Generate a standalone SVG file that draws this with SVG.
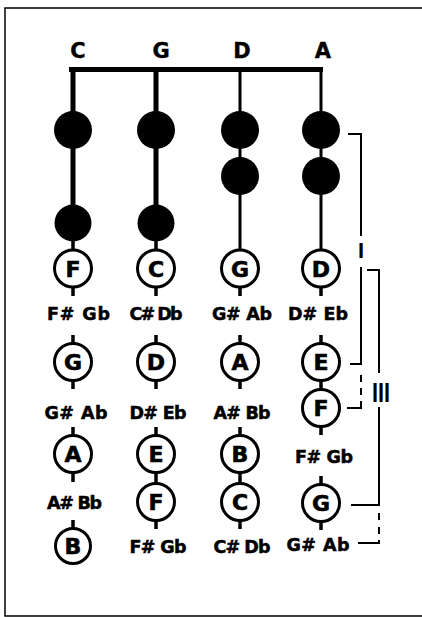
<svg xmlns="http://www.w3.org/2000/svg" width="422" height="617" viewBox="0 0 422 617">
<style>
.frame{fill:none;stroke:#000;stroke-width:1.5}
.ln{fill:none;stroke:#000}
.thick{stroke-width:5}
.thin{stroke-width:3}
.stub{stroke-width:3.5}
.br{stroke-width:2}
.dot{fill:#000}
.ring{fill:#fff;stroke:#000;stroke-width:3}
.hdr{font-family:"DejaVu Sans",sans-serif;font-weight:bold;font-size:21px;text-anchor:middle;fill:#000;stroke:#000;stroke-width:0.4}
.note{font-family:"DejaVu Sans",sans-serif;font-weight:bold;font-size:22px;text-anchor:middle;fill:#000;stroke:#000;stroke-width:0.6}
.acc{font-family:"DejaVu Sans",sans-serif;font-weight:bold;font-size:17.5px;text-anchor:middle;fill:#000;stroke:#000;stroke-width:0.5}
.rom{font-family:"Liberation Sans",Arial,sans-serif;font-weight:bold;text-anchor:middle;fill:#000}
</style>
<rect x="0" y="0" width="422" height="617" fill="#fff"/>
<path class="frame" d="M422 8 H5 V616 H422"/>

<g id="connectors">
  <rect x="69" y="67" width="254" height="5" fill="#000"/>
  <path class="ln thick" d="M73 70 V240 M156 70 V240"/>
  <path class="ln thin" d="M240 70 V250 M321 70 V250"/>
  <path class="ln stub" d="M73 240 V250 M156 240 V250"/>
  <path class="ln stub" d="M73 287 V296 M73 335 V343 M73 381 V389 M73 427 V435 M73 473 V482 M73 520 V528"/>
  <path class="ln stub" d="M156 287 V296 M156 335 V343 M156 381 V389 M156 427 V435 M156 473 V483 M156 521 V529"/>
  <path class="ln stub" d="M240 287 V296 M240 335 V343 M240 381 V389 M240 427 V435 M240 473 V483 M240 521 V529"/>
  <path class="ln stub" d="M321 287 V296 M321 335 V343 M321 381 V389 M321 427 V435 M321 476 V484 M321 522 V530"/>
  <path class="ln br" d="M348 134 H361 V236 M361 267 V364 H350"/>
  <path class="ln br" d="M361 375 V382 M361 388 V395 M361 401 V408 H347"/>
  <path class="ln br" d="M367 270 H379 V373 M379 407 V505 H351"/>
  <path class="ln br" d="M379 513 V520 M379 527 V534 M379 540 V543 H358"/>
</g>

<g id="header-C"><text class="hdr" x="78" y="58">C</text></g>
<g id="header-G"><text class="hdr" x="161" y="58">G</text></g>
<g id="header-D"><text class="hdr" x="242" y="58">D</text></g>
<g id="header-A"><text class="hdr" x="323" y="58">A</text></g>

<g id="dot-C1"><circle class="dot" cx="73" cy="130" r="19"/></g>
<g id="dot-G1"><circle class="dot" cx="156" cy="130" r="19"/></g>
<g id="dot-D1"><circle class="dot" cx="240" cy="130" r="19"/></g>
<g id="dot-A1"><circle class="dot" cx="321" cy="130" r="19"/></g>
<g id="dot-D2"><circle class="dot" cx="240" cy="176" r="19"/></g>
<g id="dot-A2"><circle class="dot" cx="321" cy="176" r="19"/></g>
<g id="dot-C2"><circle class="dot" cx="73" cy="223" r="18.5"/></g>
<g id="dot-G2"><circle class="dot" cx="156" cy="223" r="18.5"/></g>

<g id="c-F"><circle class="ring" cx="73" cy="268.5" r="18.5"/><text class="note" x="73" y="276.5">F</text></g>
<g id="c-G"><circle class="ring" cx="73" cy="362" r="18.5"/><text class="note" x="73" y="370">G</text></g>
<g id="c-A"><circle class="ring" cx="73" cy="454" r="18.5"/><text class="note" x="73" y="462">A</text></g>
<g id="c-B"><circle class="ring" cx="73" cy="546" r="17.5"/><text class="note" x="73" y="554">B</text></g>
<g id="c-l1"><text class="acc" x="78.5" y="319.5" textLength="63" lengthAdjust="spacing">F# Gb</text></g>
<g id="c-l2"><text class="acc" x="76" y="418.5" textLength="63" lengthAdjust="spacing">G# Ab</text></g>
<g id="c-l3"><text class="acc" x="74.5" y="508.5" textLength="55" lengthAdjust="spacing">A# Bb</text></g>

<g id="g-C"><circle class="ring" cx="156" cy="268.5" r="18.5"/><text class="note" x="156" y="276.5">C</text></g>
<g id="g-D"><circle class="ring" cx="156" cy="362" r="18.5"/><text class="note" x="156" y="370">D</text></g>
<g id="g-E"><circle class="ring" cx="156" cy="454" r="18.5"/><text class="note" x="156" y="462">E</text></g>
<g id="g-F"><circle class="ring" cx="156" cy="502" r="18.5"/><text class="note" x="156" y="510">F</text></g>
<g id="g-l1"><text class="acc" x="156" y="319.5" textLength="53" lengthAdjust="spacing">C# Db</text></g>
<g id="g-l2"><text class="acc" x="158" y="418.5" textLength="57" lengthAdjust="spacing">D# Eb</text></g>
<g id="g-l3"><text class="acc" x="158" y="552.5" textLength="57" lengthAdjust="spacing">F# Gb</text></g>

<g id="d-G"><circle class="ring" cx="240" cy="268.5" r="18.5"/><text class="note" x="240" y="276.5">G</text></g>
<g id="d-A"><circle class="ring" cx="240" cy="362" r="18.5"/><text class="note" x="240" y="370">A</text></g>
<g id="d-B"><circle class="ring" cx="240" cy="454" r="18.5"/><text class="note" x="240" y="462">B</text></g>
<g id="d-C"><circle class="ring" cx="240" cy="502" r="18.5"/><text class="note" x="240" y="510">C</text></g>
<g id="d-l1"><text class="acc" x="242" y="319.5" textLength="60" lengthAdjust="spacing">G# Ab</text></g>
<g id="d-l2"><text class="acc" x="242" y="418.5" textLength="57" lengthAdjust="spacing">A# Bb</text></g>
<g id="d-l3"><text class="acc" x="242" y="552.5" textLength="57" lengthAdjust="spacing">C# Db</text></g>

<g id="a-D"><circle class="ring" cx="321" cy="268.5" r="18.5"/><text class="note" x="321" y="276.5">D</text></g>
<g id="a-E"><circle class="ring" cx="321" cy="362" r="18.5"/><text class="note" x="321" y="370">E</text></g>
<g id="a-F"><circle class="ring" cx="321" cy="408" r="18.5"/><text class="note" x="321" y="416">F</text></g>
<g id="a-G"><circle class="ring" cx="321" cy="503" r="18.5"/><text class="note" x="321" y="511">G</text></g>
<g id="a-l1"><text class="acc" x="318" y="319.5" textLength="60" lengthAdjust="spacing">D# Eb</text></g>
<g id="a-l2"><text class="acc" x="324" y="462.5" textLength="58" lengthAdjust="spacing">F# Gb</text></g>
<g id="a-l3"><text class="acc" x="318" y="550.5" textLength="63" lengthAdjust="spacing">G# Ab</text></g>

<g id="label-I"><text class="rom" x="361" y="258" font-size="22" fill="#000">I</text></g>
<g id="label-III"><text class="rom" x="381" y="402" font-size="27" fill="#000" textLength="18" lengthAdjust="spacingAndGlyphs">III</text></g>
</svg>
